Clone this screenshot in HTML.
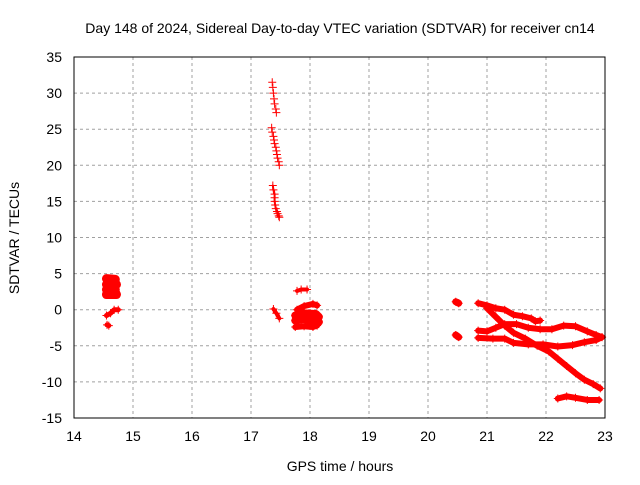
<!DOCTYPE html>
<html><head><meta charset="utf-8"><style>
body{margin:0;background:#fff}
svg{font-family:"Liberation Sans",sans-serif;font-size:14px}
</style></head><body>
<svg id="c" width="640" height="480">
<rect width="640" height="480" fill="#fff"/>
<text x="340" y="33" text-anchor="middle">Day 148 of 2024, Sidereal Day-to-day VTEC variation (SDTVAR) for receiver cn14</text>
<text x="340" y="471" text-anchor="middle">GPS time / hours</text>
<text transform="translate(19,238) rotate(-90)" text-anchor="middle">SDTVAR / TECUs</text>
<g id="grid"></g><g id="marks"></g>
<rect x="74" y="57" width="531" height="361" fill="none" stroke="#000"/>
</svg>
<script>
const xTicks=[14,15,16,17,18,19,20,21,22,23];
const yTicks=[-15,-10,-5,0,5,10,15,20,25,30,35];
const series=[
 [[14.55,4.3],[14.7,4.2],[14.55,3.5],[14.72,3.5],[14.55,2.8],[14.7,2.8],[14.55,2.1],[14.72,2.1],[14.62,3.8],[14.65,2.4]],
 [[14.55,-0.8],[14.62,-0.5],[14.68,0],[14.75,0]],
 [[14.56,-2.1],[14.59,-2.2]],
 [[17.36,31.5],[17.37,30.8],[17.38,30],[17.39,29.2],[17.4,28.5],[17.42,27.8],[17.43,27.3]],
 [[17.35,25.2],[17.36,24.6],[17.38,24],[17.39,23.5],[17.4,23],[17.42,22.5],[17.43,22],[17.44,21.5],[17.45,21],[17.47,20.5],[17.48,20]],
 [[17.37,17.2],[17.38,16.6],[17.4,16],[17.4,15.5],[17.4,15],[17.41,14.5],[17.42,14],[17.44,13.6],[17.45,13.3],[17.47,13],[17.48,12.8]],
 [[17.38,0.1],[17.43,-0.5],[17.48,-1.2]],
 [[17.78,2.6],[17.85,2.8],[17.95,2.8]],
 [[17.78,0],[17.9,0.5],[18.05,0.8],[18.12,0.6]],
 [[17.75,-0.8],[17.9,-0.5],[18.1,-0.6],[18.15,-1]],
 [[17.75,-1.5],[17.9,-1.3],[18.05,-1.6],[18.15,-1.7]],
 [[17.75,-2.4],[17.9,-2.3],[18.05,-2.4],[18.12,-2.2]],
 [[20.47,1.1],[20.52,0.9]],
 [[20.47,-3.5],[20.52,-3.8]],
 [[20.85,0.9],[21.0,0.6],[21.15,0.2],[21.3,0],[21.45,-0.7],[21.6,-0.9],[21.75,-1.2],[21.82,-1.6],[21.9,-1.5]],
 [[20.85,-2.9],[21.0,-3.0],[21.15,-2.5],[21.3,-2],[21.5,-2],[21.7,-2.5],[21.9,-2.7],[22.1,-2.7],[22.3,-2.2],[22.5,-2.3],[22.7,-3.0],[22.85,-3.5],[22.95,-3.8]],
 [[20.85,-3.9],[21.1,-4.0],[21.3,-4.0],[21.45,-4.6],[21.7,-4.8],[21.95,-4.8],[22.2,-5.1],[22.45,-4.9],[22.65,-4.5],[22.85,-4.2],[22.95,-3.8]],
 [[21.0,0.2],[21.15,-1],[21.3,-2.2],[21.45,-3.2],[21.65,-4],[21.85,-5],[22.05,-5.8],[22.2,-6.8],[22.35,-7.8],[22.5,-8.8],[22.65,-9.7],[22.8,-10.3],[22.92,-10.9]],
 [[22.2,-12.3],[22.35,-12],[22.5,-12.2],[22.7,-12.5],[22.9,-12.5]]
];
const trackW=[9,5,5,0,0,2,4,4,6,8,8,6,7,7,6,6,6,6,6];
const X=h=>74+(h-14)*59, Y=v=>418-(v+15)*7.22;
const NS='http://www.w3.org/2000/svg';
const grid=document.getElementById('grid'), marks=document.getElementById('marks');
function mk(t,a,p){const e=document.createElementNS(NS,t);for(const k in a)e.setAttribute(k,a[k]);p.appendChild(e);return e;}
xTicks.forEach(t=>{const x=X(t);
 const l=mk('line',{x1:x,x2:x,y1:57,y2:418,stroke:'#a0a0a0','stroke-dasharray':'3,3'},grid);
 
 
 const tx=mk('text',{x:x,y:441,'text-anchor':'middle'},grid);tx.textContent=t;
 
 });
yTicks.forEach(t=>{const y=Y(t);
 const l=mk('line',{x1:74,x2:605,y1:y,y2:y,stroke:'#a0a0a0','stroke-dasharray':'3,3'},grid);
 
 
 const tx=mk('text',{x:62,y:y+5,'text-anchor':'end'},grid);tx.textContent=t;
 
 });
series.forEach((s,i)=>{
 if(trackW[i]>0){
 const pl=mk('polyline',{points:s.map(p=>X(p[0])+','+Y(p[1])).join(' '),fill:'none',stroke:'#f00','stroke-width':trackW[i],'stroke-linejoin':'round','stroke-linecap':'round'},marks);
 
 }
 s.forEach(p=>{const x=X(p[0]),y=Y(p[1]);
  const m=mk('path',{d:`M${x-4} ${y}H${x+4}M${x} ${y-4}V${y+4}`,stroke:'#f00','stroke-width':1},marks);
  
  });
});
</script>
</body></html>
